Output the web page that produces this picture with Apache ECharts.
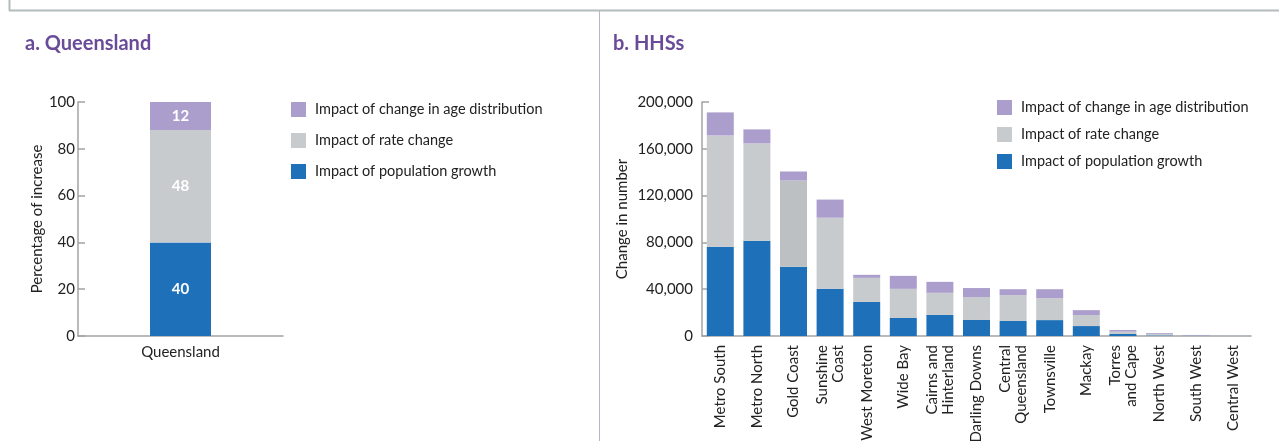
<!DOCTYPE html>
<html>
<head>
<meta charset="utf-8">
<script src="https://cdn.jsdelivr.net/npm/echarts@6/dist/echarts.min.js"></script>
<style>
  html, body { margin: 0; padding: 0; background: #fff; }
  #main { width: 1279px; height: 441px; }
</style>
</head>
<body>
<div id="main"></div>
<script>
// 左图：昆士兰州百分比
var qldCats = ['Queensland'];
var qldPop = [40];
var qldRate = [48];
var qldAge = [12];

// 右图：各 HHS 变化量
var hhsCats = ['Metro South', 'Metro North', 'Gold Coast', 'Sunshine\nCoast', 'West Moreton',
  'Wide Bay', 'Cairns and\nHinterland', 'Darling Downs', 'Central\nQueensland', 'Townsville',
  'Mackay', 'Torres\nand Cape', 'North West', 'South West', 'Central West'];
var hhsPop = [76300, 81400, 59100, 40300, 29100, 15400, 18000, 13700, 12800, 13600, 8500, 1700, 500, 200, 100];
var hhsRate = [95100, 83200, 73800, 60800, 20600, 24900, 18900, 19600, 22100, 18700, 9400, 2000, 1300, 300, 400];
var hhsAge = [19700, 12000, 7700, 15500, 2600, 11100, 9400, 7700, 5100, 7700, 4200, 1400, 700, 400, 100];

var names = ['Impact of change in age distribution', 'Impact of rate change', 'Impact of population growth'];
var cAge = '#ab9ecc';
var cRate = '#c7cbcd';
var cPop = '#1e71b9';
var font = 'Lato';

var chart = echarts.init(document.getElementById('main'));

var axisLine = { show: true, lineStyle: { color: '#a3a3a3', width: 1.5 } };
var yTick = { show: true, inside: true, length: 7, lineStyle: { color: '#a3a3a3', width: 1.5 } };
var txt = { color: '#222', fontSize: 15, fontFamily: font };

var barLabel = {
  show: true,
  position: 'inside',
  color: '#fff',
  fontSize: 15,
  fontWeight: 'bold',
  fontFamily: font
};

var legendText = { color: '#222', fontSize: 14.5, fontFamily: font, padding: [0, 0, 0, 4] };

var option = {
  backgroundColor: '#fff',
  animation: false,
  textStyle: { fontFamily: font },
  legend: [
    {
      data: names,
      orient: 'vertical',
      left: 286,
      top: 97,
      icon: 'rect',
      itemWidth: 15,
      itemHeight: 15,
      itemGap: 16,
      selectedMode: false,
      textStyle: legendText
    },
    {
      data: names,
      orient: 'vertical',
      left: 992,
      top: 95,
      icon: 'rect',
      itemWidth: 15,
      itemHeight: 15,
      itemGap: 12,
      selectedMode: false,
      textStyle: legendText
    }
  ],
  grid: [
    { left: 78, top: 102, width: 205, height: 234, outerBoundsMode: 'none' },
    { left: 702, top: 102, width: 549, height: 234, outerBoundsMode: 'none' }
  ],
  xAxis: [
    {
      type: 'category', gridIndex: 0, data: qldCats,
      axisLine: axisLine, axisTick: { show: false },
      axisLabel: Object.assign({ margin: 9 }, txt)
    },
    {
      type: 'category', gridIndex: 1, data: hhsCats,
      axisLine: axisLine, axisTick: { show: false },
      axisLabel: Object.assign({ rotate: 90, margin: 9, interval: 0, lineHeight: 16 }, txt)
    }
  ],
  yAxis: [
    {
      type: 'value', gridIndex: 0, min: 0, max: 100, interval: 20,
      name: 'Percentage of increase', nameLocation: 'middle', nameGap: 33,
      nameMoveOverlap: false,
      nameTextStyle: txt,
      axisLine: axisLine,
      axisTick: yTick,
      splitLine: { show: false },
      axisLabel: Object.assign({ margin: 3 }, txt)
    },
    {
      type: 'value', gridIndex: 1, min: 0, max: 200000, interval: 40000,
      name: 'Change in number', nameLocation: 'middle', nameGap: 72,
      nameMoveOverlap: false,
      nameTextStyle: txt,
      axisLine: axisLine,
      axisTick: yTick,
      splitLine: { show: false },
      axisLabel: Object.assign({
        margin: 9,
        formatter: function (v) { return v.toLocaleString('en-US'); }
      }, txt)
    }
  ],
  series: [
    {
      name: names[2], type: 'bar', stack: 'q', xAxisIndex: 0, yAxisIndex: 0,
      barWidth: 61, data: qldPop, itemStyle: { color: cPop }, label: barLabel
    },
    {
      name: names[1], type: 'bar', stack: 'q', xAxisIndex: 0, yAxisIndex: 0,
      barWidth: 61, data: qldRate, itemStyle: { color: cRate }, label: barLabel
    },
    {
      name: names[0], type: 'bar', stack: 'q', xAxisIndex: 0, yAxisIndex: 0,
      barWidth: 61, data: qldAge, itemStyle: { color: cAge }, label: barLabel
    },
    {
      name: names[2], type: 'bar', stack: 'h', xAxisIndex: 1, yAxisIndex: 1,
      barWidth: 27, data: hhsPop, itemStyle: { color: cPop }
    },
    {
      name: names[1], type: 'bar', stack: 'h', xAxisIndex: 1, yAxisIndex: 1,
      barWidth: 27,
      // Gold Coast 的灰色略深
      data: hhsRate.map(function (v, i) {
        return i === 2 ? { value: v, itemStyle: { color: '#bcc0c2' } } : v;
      }),
      itemStyle: { color: cRate }
    },
    {
      name: names[0], type: 'bar', stack: 'h', xAxisIndex: 1, yAxisIndex: 1,
      barWidth: 27, data: hhsAge, itemStyle: { color: cAge }
    }
  ],
  graphic: [
    // 顶部边框
    { type: 'line', shape: { x1: 9, y1: 10.5, x2: 1279, y2: 10.5 }, style: { stroke: '#b3bcbc', lineWidth: 2 } },
    { type: 'line', shape: { x1: 9.5, y1: 0, x2: 9.5, y2: 11 }, style: { stroke: '#b3bcbc', lineWidth: 2 } },
    // 中间分隔线
    { type: 'line', shape: { x1: 599.5, y1: 11, x2: 599.5, y2: 441 }, style: { stroke: '#b9b5c9', lineWidth: 1 } },
    {
      type: 'text', left: 25, top: 34,
      style: { text: 'a. Queensland', fill: '#6a4b98', fontSize: 20, fontWeight: 'bold', fontFamily: font }
    },
    {
      type: 'text', left: 613, top: 34,
      style: { text: 'b. HHSs', fill: '#6a4b98', fontSize: 20, fontWeight: 'bold', fontFamily: font }
    }
  ]
};

chart.setOption(option);
</script>
</body>
</html>
